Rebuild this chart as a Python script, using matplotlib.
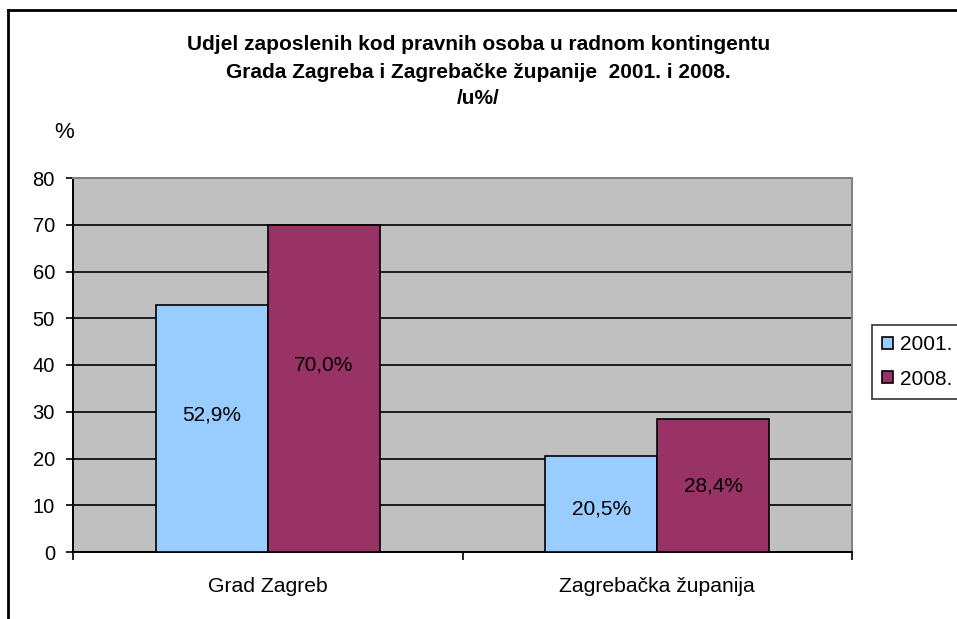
import matplotlib
matplotlib.use("Agg")
import matplotlib.pyplot as plt
from matplotlib.lines import Line2D
import numpy as np

plt.rcParams["font.family"] = ["Liberation Sans", "DejaVu Sans"]

categories = ["Grad Zagreb", "Zagrebačka županija"]
years = ["2001.", "2008."]
values_2001 = [52.9, 20.5]
values_2008 = [70.0, 28.4]
labels_2001 = ["52,9%", "20,5%"]
labels_2008 = ["70,0%", "28,4%"]
yticks = [0, 10, 20, 30, 40, 50, 60, 70, 80]

W, H = 957, 619
fig = plt.figure(figsize=(W / 100, H / 100), dpi=100)
ax = fig.add_axes([73 / W, (H - 552) / H, (852 - 73) / W, (552 - 178) / H])
ax.set_facecolor("#C0C0C0")

x = np.arange(len(categories))
bw = 0.287
ax.bar(x - bw / 2, values_2001, bw, color="#99CCFF", edgecolor="black", linewidth=1.2, zorder=3, label=years[0])
ax.bar(x + bw / 2, values_2008, bw, color="#993366", edgecolor="black", linewidth=1.2, zorder=3, label=years[1])


def label_y(v):
    # the original's labels drift above the middle on tall bars
    return 0.62 * v - 3.5


for xi, v, t in zip(x - bw / 2, values_2001, labels_2001):
    ax.text(xi, label_y(v), t, ha="center", va="center", fontsize=15, zorder=4)
for xi, v, t in zip(x + bw / 2, values_2008, labels_2008):
    ax.text(xi, label_y(v), t, ha="center", va="center", fontsize=15, zorder=4)

ax.set_xlim(-0.5, len(categories) - 0.5)
ax.set_ylim(0, 80)
ax.set_yticks(yticks)
ax.tick_params(axis="y", labelsize=14.5, length=5, width=1.2, direction="out", pad=8)
ax.yaxis.grid(True, color="black", linewidth=1.2, zorder=0)
ax.set_axisbelow(True)

ax.set_xticks(x)
ax.set_xticklabels(categories, fontsize=15.2)
ax.tick_params(axis="x", length=0, pad=18)
ax.set_xticks(np.arange(-0.5, len(categories)), minor=True)
ax.tick_params(axis="x", which="minor", length=6, width=1.2, direction="out")

for s in ["left", "bottom"]:
    ax.spines[s].set_color("black")
    ax.spines[s].set_linewidth(1.4)
for s in ["top", "right"]:
    ax.spines[s].set_color("#808080")
    ax.spines[s].set_linewidth(1.4)

leg = ax.legend(loc="center left", bbox_to_anchor=(872 / W, (H - 362) / H),
                bbox_transform=fig.transFigure, fontsize=15, frameon=True,
                fancybox=False, edgecolor="black", handlelength=0.5,
                handleheight=0.5, handletextpad=0.35, borderpad=0.5,
                labelspacing=0.75, borderaxespad=0)
leg.get_frame().set_linewidth(1.2)

title_lines = ["Udjel zaposlenih kod pravnih osoba u radnom kontingentu",
               "Grada Zagreba i Zagrebačke županije  2001. i 2008.",
               "/u%/"]
for i, line in enumerate(title_lines):
    fig.text(0.5, 1 - (45 + 27 * i) / H, line, ha="center", va="center",
             fontsize=15, fontweight="bold")
fig.text(64 / W, 1 - 132 / H, "%", ha="center", va="center", fontsize=16)

fig.add_artist(Line2D([8 / W, 8 / W], [0, 1 - 10 / H], color="black", linewidth=2, transform=fig.transFigure))
fig.add_artist(Line2D([8 / W, 1], [1 - 10 / H, 1 - 10 / H], color="black", linewidth=2, transform=fig.transFigure))

fig.savefig("out.png", dpi=100)
